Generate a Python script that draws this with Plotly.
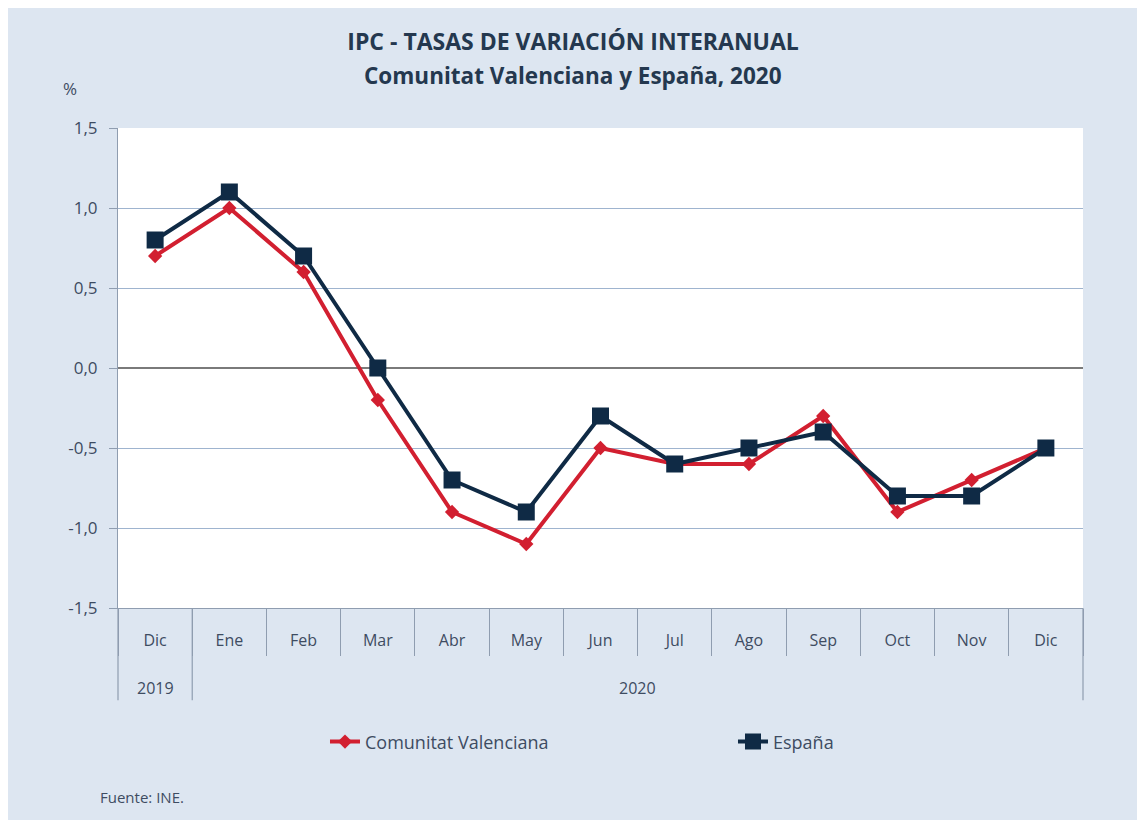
import plotly.graph_objects as go

years = ['2019'] + ['2020'] * 12
months = ['Dic', 'Ene', 'Feb', 'Mar', 'Abr', 'May', 'Jun',
          'Jul', 'Ago', 'Sep', 'Oct', 'Nov', 'Dic']
cv = [0.7, 1.0, 0.6, -0.2, -0.9, -1.1, -0.5, -0.6, -0.6, -0.3, -0.9, -0.7, -0.5]
espana = [0.8, 1.1, 0.7, 0.0, -0.7, -0.9, -0.3, -0.6, -0.5, -0.4, -0.8, -0.8, -0.5]
y_ticks = [-1.5, -1.0, -0.5, 0.0, 0.5, 1.0, 1.5]
y_labels = ['-1,5', '-1,0', '-0,5', '0,0', '0,5', '1,0', '1,5']

FONT = 'Open Sans'
TXT = '#3e4c62'
TITLE = '#24384f'
BG = '#dde6f1'
AXIS = '#8f9db0'

# one category per month, shown with the month name only
x_cat = [f'{m} {y}' for m, y in zip(months, years)]
n = len(x_cat)

fig = go.Figure()

fig.add_trace(go.Scatter(
    x=x_cat, y=cv, name='Comunitat Valenciana',
    mode='lines+markers',
    line=dict(color='#d21f30', width=4),
    marker=dict(symbol='diamond', size=11, color='#d21f30')))

fig.add_trace(go.Scatter(
    x=x_cat, y=espana, name='España',
    mode='lines+markers',
    line=dict(color='#0f2a45', width=4),
    marker=dict(symbol='square', size=17, color='#0f2a45')))

# year groups: label in the middle, divider at each group edge
annotations = []
shapes = []
edges = [0]
for i in range(1, n):
    if years[i] != years[i - 1]:
        edges.append(i)
edges.append(n)
for a, b in zip(edges[:-1], edges[1:]):
    annotations.append(dict(
        text=years[a], xref='x', yref='paper', x=(a + b - 1) / 2, y=-0.167,
        xanchor='center', yanchor='middle', showarrow=False,
        font=dict(size=16, color=TXT)))
for e in edges:
    shapes.append(dict(
        type='line', xref='paper', yref='paper', x0=e / n, x1=e / n,
        y0=0, y1=-0.192, line=dict(color=AXIS, width=1.2)))

annotations += [
    dict(text='<b>Comunitat Valenciana y España, 2020</b>', xref='paper',
         yref='paper', x=0.4716, y=1.110, xanchor='center', yanchor='middle',
         showarrow=False, font=dict(family=FONT, size=22.5, color=TITLE)),
    dict(text='%', xref='paper', yref='paper', x=-0.05, y=1.083,
         xanchor='center', yanchor='middle', showarrow=False,
         font=dict(size=17, color=TXT)),
    dict(text='Fuente: INE.', xref='paper', yref='paper', x=-0.021,
         y=-0.394, xanchor='left', yanchor='middle', showarrow=False,
         font=dict(size=15, color=TXT)),
]

fig.update_layout(
    width=1145, height=820,
    paper_bgcolor=BG, plot_bgcolor='white',
    margin=dict(l=110, r=68, t=120, b=220),
    font=dict(family=FONT, size=16, color=TXT),
    title=dict(
        text='<b>IPC - TASAS DE VARIACIÓN INTERANUAL</b>',
        x=0.4716, xanchor='center', xref='paper', y=1 - 34 / 820,
        yanchor='middle', yref='container',
        font=dict(family=FONT, size=23, color=TITLE)),
    showlegend=True,
    legend=dict(orientation='h', x=0.2145, xanchor='left', y=-0.279,
                yanchor='middle', font=dict(size=18, color=TXT),
                entrywidth=363, bgcolor='rgba(0,0,0,0)'),
    annotations=annotations,
    shapes=shapes,
)

fig.update_xaxes(
    type='category', tickmode='array', tickvals=x_cat, ticktext=months,
    range=[-0.5, n - 0.5],
    tickson='boundaries', ticks='outside', ticklen=47,
    tickcolor=AXIS, tickwidth=1.2, ticklabelstandoff=18,
    showline=True, linecolor=AXIS, linewidth=1.2,
    showgrid=False, automargin=False,
    tickfont=dict(size=16, color=TXT),
)

fig.update_yaxes(
    range=[-1.5, 1.5], tickvals=y_ticks, ticktext=y_labels,
    showline=True, linecolor=AXIS, linewidth=1.2,
    ticks='outside', ticklen=8, tickcolor=AXIS, ticklabelstandoff=8,
    gridcolor='#9fb4cf', gridwidth=1.2,
    zeroline=True, zerolinecolor='#7a7a7a', zerolinewidth=1.5,
    automargin=False,
    tickfont=dict(size=17, color=TXT),
)

fig.write_html('out.html')
